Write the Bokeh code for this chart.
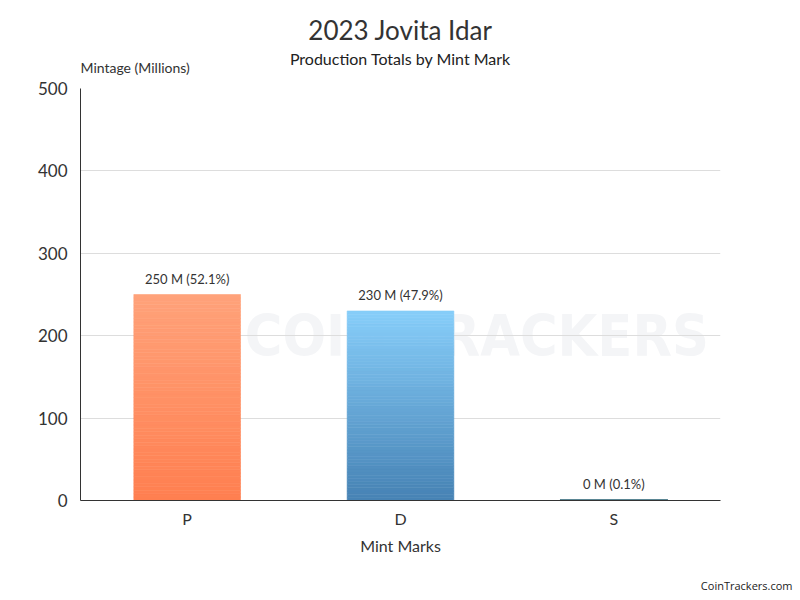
from bokeh.plotting import figure
from bokeh.models import ColumnDataSource, Range1d, FactorRange, Label, LabelSet, Title
from bokeh.core.properties import value
from bokeh.embed import file_html
from bokeh.resources import INLINE

# ---- data ----
mints = ["P", "D", "S"]
mintage_millions = [250.0, 230.0, 0.3]
bar_labels = ["250 M (52.1%)", "230 M (47.9%)", "0 M (0.1%)"]
top_colors = [(255, 162, 122), (135, 206, 250), (95, 140, 150)]
bottom_colors = [(255, 127, 80), (70, 130, 180), (80, 120, 135)]
y_ticks = [0, 100, 200, 300, 400, 500]

title_text = "2023 Jovita Idar"
subtitle_text = "Production Totals by Mint Mark"
y_label_text = "Mintage (Millions)"
x_label_text = "Mint Marks"
footer_text = "CoinTrackers.com"
watermark_text = "COIN TRACKERS"

FONT = "Lato"

p = figure(width=800, height=600, x_range=FactorRange(*mints, range_padding=0),
           y_range=Range1d(0, 500), output_backend="svg", toolbar_location=None,
           title=None,
           min_border_left=80, min_border_right=80, min_border_top=88, min_border_bottom=100)
p.outline_line_color = None
p.background_fill_color = "white"

# watermark (faint)
wm = Label(x=0.77, y=200, text=watermark_text, text_align="left", text_baseline="alphabetic",
           text_font="DejaVu Sans Condensed", text_font_style="bold", text_font_size="57px",
           text_color="#f4f5f7", level="image")
p.add_layout(wm)

# gradient bars built from data
N = 60
xs, bots, tops, cols = [], [], [], []
def mix(a, b, t):
    return "#%02x%02x%02x" % tuple(int(round(a[k] + (b[k] - a[k]) * t)) for k in range(3))
for m, v, tc, bc in zip(mints, mintage_millions, top_colors, bottom_colors):
    for i in range(N):
        xs.append(m)
        bots.append(v * i / N)
        tops.append(v * (i + 1) / N)
        cols.append(mix(bc, tc, (i + 0.5) / N))
seg = ColumnDataSource(dict(x=xs, bottom=bots, top=tops, color=cols))
p.vbar(x="x", bottom="bottom", top="top", width=0.5, source=seg,
       fill_color="color", line_color="color", line_width=0.6)

# tiny S bar outline so it is visible
src = ColumnDataSource(dict(x=mints, top=mintage_millions, label=bar_labels))
p.vbar(x=[mints[2]], top=[mintage_millions[2]], width=0.5, fill_color="#5b8796",
       line_color="#5b8796", line_width=2)

labels = LabelSet(x="x", y="top", text="label", source=src, text_align="center",
                  text_baseline="middle", y_offset=16, text_font_size=value("13px"),
                  text_color="#333333", text_font=value(FONT))
p.add_layout(labels)

# axes
p.yaxis.ticker = y_ticks
p.xaxis.major_tick_line_color = None
p.xaxis.minor_tick_line_color = None
p.yaxis.major_tick_line_color = None
p.yaxis.minor_tick_line_color = None
p.xaxis.axis_line_color = "#333333"
p.yaxis.axis_line_color = "#333333"
p.yaxis.major_label_text_font_size = "17px"
p.yaxis.major_label_text_color = "#333333"
p.yaxis.major_label_text_font = FONT
p.yaxis.major_label_standoff = 7
p.xaxis.major_label_text_font_size = "16px"
p.xaxis.major_label_text_color = "#333333"
p.xaxis.major_label_text_font = FONT
p.xaxis.major_label_standoff = 2
p.xaxis.axis_label = x_label_text
p.xaxis.axis_label_text_font = FONT
p.xaxis.axis_label_text_font_style = "normal"
p.xaxis.axis_label_text_font_size = "16px"
p.xaxis.axis_label_text_color = "#333333"
p.xaxis.axis_label_standoff = 5
p.xgrid.grid_line_color = None
p.ygrid.grid_line_color = "#dddddd"

# titles (stacked above the frame; first added is closest to the frame)
p.add_layout(Title(text=y_label_text, align="left", text_font=FONT, text_font_style="normal",
                   text_font_size="14px", text_color="#333333", standoff=25), "above")
p.add_layout(Title(text=subtitle_text, align="center", text_font=FONT, text_font_style="normal",
                   text_font_size="16px", text_color="#222222", standoff=-47), "above")
p.add_layout(Title(text=title_text, align="center", text_font=FONT, text_font_style="normal",
                   text_font_size="26px", text_color="#333333", standoff=-3), "above")
p.add_layout(Title(text=footer_text, align="right", offset=-72, text_font="Open Sans",
                   text_font_style="normal", text_font_size="11px", text_color="#222222",
                   vertical_align="bottom", standoff=-70), "below")

open("out.html", "w").write(file_html(p, INLINE))
